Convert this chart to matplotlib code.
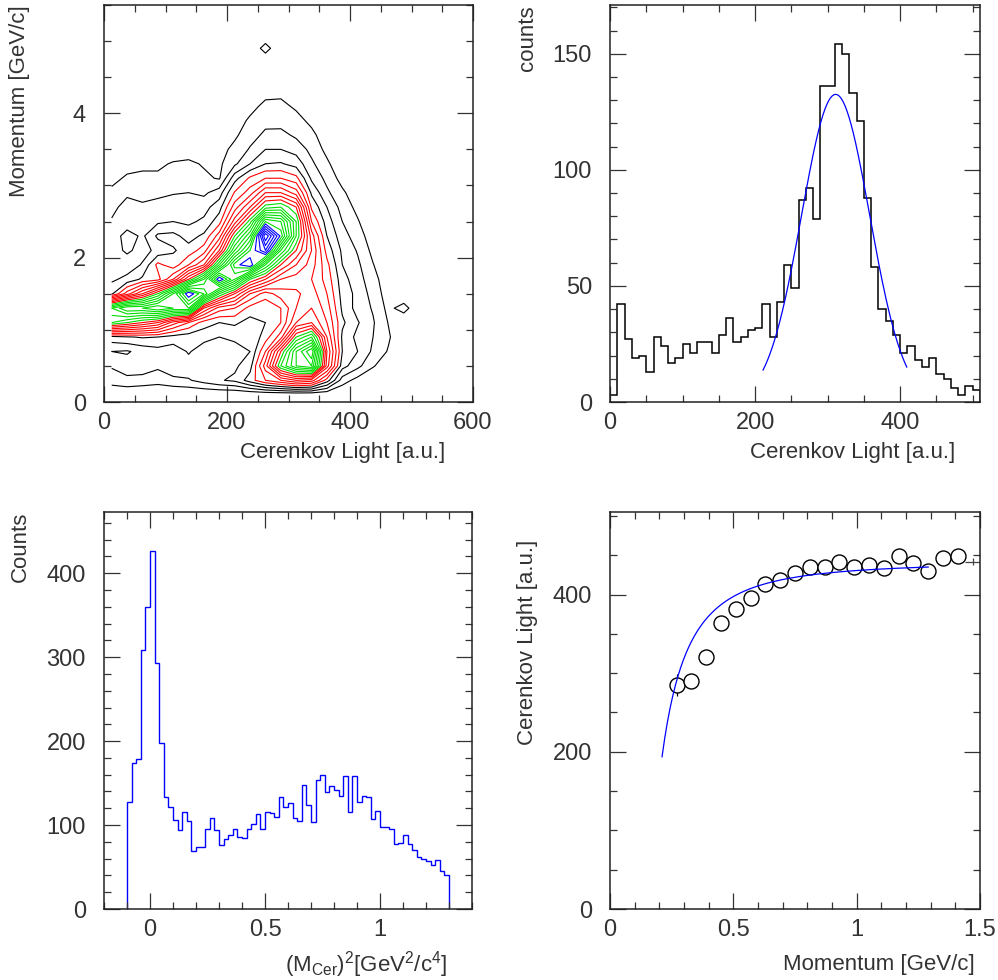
import numpy as np
import matplotlib
matplotlib.use('Agg')
import matplotlib.pyplot as plt
from matplotlib.ticker import MultipleLocator, FuncFormatter

plt.rcParams['font.family'] = ['Liberation Sans', 'DejaVu Sans']
plt.rcParams['mathtext.default'] = 'regular'

# --- 2D map: momentum vs Cerenkov light (counts per 25 a.u. x 0.2 GeV/c cell)
map_x = [12.5, 37.5, 62.5, 87.5, 112.5, 137.5, 162.5, 187.5, 212.5, 237.5, 262.5,
         287.5, 312.5, 337.5, 362.5, 387.5, 412.5, 437.5, 462.5, 487.5, 512.5, 537.5]
map_y = [0.1, 0.3, 0.5, 0.7, 0.9, 1.1, 1.3, 1.5, 1.7, 1.9, 2.1, 2.3, 2.5,
         2.7, 2.9, 3.1, 3.3, 3.5, 3.7, 3.9, 4.1, 4.3, 4.5, 4.7, 4.9, 5.1]
# one list per light bin, momentum running upwards
map_cols = [
    [0, 1.5, 2.1, 2.0, 3.6, 13, 15, 3.8, 2.8, 2.2, 2.5, 2.3, 2.1, 1.7, 1.3, 0.6, 0.2, 0, 0, 0, 0, 0, 0, 0, 0, 0],
    [0, 1.8, 2.4, 1.9, 3.9, 12, 17, 6.5, 3.3, 2.4, 3.2, 3.5, 2.3, 2.4, 1.8, 1.2, 0.5, 0, 0, 0, 0, 0, 0, 0, 0, 0],
    [0, 1.6, 2.6, 2.3, 4.1, 11, 17, 9, 4.2, 3.1, 2.6, 2.8, 2.6, 2.2, 1.6, 1.3, 0.7, 0.2, 0, 0, 0, 0, 0, 0, 0, 0],
    [0, 1.4, 2.2, 2.6, 4.0, 10, 18, 12, 4.6, 5.3, 3.3, 4.2, 2.8, 2.3, 1.8, 1.2, 0.8, 0.3, 0, 0, 0, 0, 0, 0, 0, 0],
    [0, 1.7, 2.8, 2.4, 3.6, 7.5, 17, 16, 7.0, 4.4, 3.9, 4.3, 3.0, 2.7, 1.9, 1.5, 1.1, 0.4, 0, 0, 0, 0, 0, 0, 0, 0],
    [0, 1.9, 2.6, 3.1, 3.4, 6, 17, 21, 11, 6.0, 4.4, 3.6, 2.8, 2.4, 2.0, 1.5, 1.2, 0.5, 0, 0, 0, 0, 0, 0, 0, 0],
    [0, 2.4, 2.7, 2.5, 3.3, 4.5, 9, 18, 15, 8, 5.5, 4.2, 3.2, 2.6, 1.8, 1.2, 0.9, 0.4, 0, 0, 0, 0, 0, 0, 0, 0],
    [0, 2.9, 2.5, 2.9, 3.0, 4.0, 6.5, 13, 21, 14, 9, 6.5, 4.6, 3.6, 2.5, 0.9, 0.8, 0.6, 0.2, 0, 0, 0, 0, 0, 0, 0],
    [0, 3.2, 2.8, 2.6, 3.2, 4.2, 6, 10, 17, 19.5, 15, 12, 8.5, 6.5, 5.1, 3.6, 1.8, 1.3, 0.8, 0.4, 0, 0, 0, 0, 0, 0],
    [0, 4.5, 3.6, 3.0, 3.1, 3.6, 4.6, 7, 12, 21, 19, 16, 12.5, 9, 6.5, 5.2, 3.0, 2.1, 1.6, 1.2, 0.6, 0, 0, 0, 0, 0],
    [0, 6, 7.5, 6.0, 4.5, 4.0, 4.2, 5.5, 10, 15, 22, 25, 19, 12.5, 9, 6, 4.0, 3.0, 2.2, 1.7, 1.3, 0.6, 0, 0, 1.5, 0],
    [0, 7, 13, 11, 6.5, 5.0, 5.0, 6.5, 8, 11, 15, 19.7, 18, 13, 9, 6, 4.1, 3.0, 2.3, 1.6, 1.3, 0.7, 0, 0, 0, 0],
    [0, 8, 16, 16, 12, 8, 7, 6.8, 7.5, 9, 11, 13, 13, 11, 7.5, 5.3, 3.6, 2.6, 1.8, 1.4, 0.8, 0.1, 0, 0, 0, 0],
    [0, 7.5, 17, 19, 14, 9, 8, 7.5, 7, 7.5, 8, 7.5, 6, 4.8, 3.8, 2.8, 2.2, 1.7, 1.3, 0.7, 0.2, 0, 0, 0, 0, 0],
    [0, 4.5, 8.5, 9, 8, 7, 6.5, 6, 5.6, 5.3, 4.6, 4.0, 3.5, 3.0, 2.2, 1.7, 1.2, 0.7, 0.3, 0, 0, 0, 0, 0, 0, 0],
    [0, 1.5, 3.4, 4.0, 3.8, 4.2, 3.8, 3.6, 3.4, 3.0, 2.8, 2.4, 2.0, 1.6, 1.2, 0.6, 0.2, 0, 0, 0, 0, 0, 0, 0, 0, 0],
    [0, 0.6, 2.3, 3.0, 2.7, 3.1, 2.6, 2.7, 2.4, 2.2, 1.9, 1.5, 1.1, 0.7, 0.3, 0, 0, 0, 0, 0, 0, 0, 0, 0, 0, 0],
    [0, 0.1, 1.1, 1.8, 2.0, 2.1, 1.9, 1.6, 1.4, 1.05, 0.7, 0.4, 0.1, 0, 0, 0, 0, 0, 0, 0, 0, 0, 0, 0, 0, 0],
    [0, 0, 0.3, 0.9, 1.15, 0.95, 0.7, 0.5, 0.3, 0.1, 0, 0, 0, 0, 0, 0, 0, 0, 0, 0, 0, 0, 0, 0, 0, 0],
    [0, 0, 0, 0, 0, 0, 1.5, 0, 0, 0, 0, 0, 0, 0, 0, 0, 0, 0, 0, 0, 0, 0, 0, 0, 0, 0],
    [0] * 26,
    [0] * 26,
]

# --- Cerenkov light spectrum, 10 a.u. bins
light_edges = np.arange(0, 520, 10)
light_counts = [3, 42, 27, 19, 20, 13, 28, 24, 17, 19, 25, 21, 26, 26, 21, 29, 36, 26,
                28, 31, 32, 42, 28, 43, 59, 49, 87, 92, 79, 136, 136, 154, 150, 133,
                121, 88, 58, 40, 35, 29, 21, 24, 18, 15, 19, 12, 10, 6, 3, 7, 5]
gaus_amp, gaus_mean, gaus_sigma = 132.5, 311.0, 47.0
gaus_from, gaus_to = 211.0, 409.0

# --- Cerenkov mass squared, 0.02 bins from -0.1 to 1.3
m2_edges = np.linspace(-0.1, 1.3, 71)
m2_counts = [127, 174, 179, 308, 360, 427, 293, 198, 134, 122,
             106, 94, 115, 105, 69, 74, 74, 95, 109, 94,
             76, 83, 88, 95, 86, 85, 95, 101, 113, 95,
             115, 114, 110, 134, 121, 126, 109, 105, 148, 124,
             104, 154, 160, 139, 146, 142, 135, 158, 115, 158,
             128, 135, 133, 107, 117, 98, 98, 95, 78, 79,
             88, 77, 70, 62, 59, 57, 53, 58, 45, 41]

# --- mean light yield vs momentum
p_mom = [0.27, 0.33, 0.39, 0.45, 0.51, 0.57, 0.63, 0.69, 0.75, 0.81,
         0.87, 0.93, 0.99, 1.05, 1.11, 1.17, 1.23, 1.29, 1.35, 1.41]
p_light = [285, 290, 320, 364, 381, 396, 413, 419, 428, 435,
           435, 441, 435, 437, 434, 449, 440, 430, 446, 449]
p_err = [14, 8, 7, 6, 5, 5, 5, 5, 5, 5, 5, 5, 5, 5, 5, 5, 5, 5, 5, 5]
last_mom, last_light, last_err = 1.47, 442, 4
yield_a, yield_b = 441.6, 0.025       # L = a * (1 - b / p^2)
yield_from, yield_to = 0.211, 1.29

W, H = 998, 980
fig = plt.figure(figsize=(W / 100, H / 100), dpi=100)


def box(l, r, t, b):
    return fig.add_axes([l / W, 1 - b / H, (r - l) / W, (b - t) / H])


fmt = FuncFormatter(lambda v, pos: '%g' % v)


def style(ax, xmaj, xmin, ymaj, ymin):
    ax.xaxis.set_major_locator(MultipleLocator(xmaj))
    ax.xaxis.set_minor_locator(MultipleLocator(xmin))
    ax.yaxis.set_major_locator(MultipleLocator(ymaj))
    ax.yaxis.set_minor_locator(MultipleLocator(ymin))
    ax.xaxis.set_major_formatter(fmt)
    ax.yaxis.set_major_formatter(fmt)
    ax.tick_params(which='both', direction='in', top=True, right=True,
                   width=0.9, colors='#333333', labelsize=17)
    ax.tick_params(which='major', length=11.5)
    ax.tick_params(which='minor', length=5)
    ax.tick_params(axis='x', pad=7)
    ax.tick_params(axis='y', pad=13)
    for s in ax.spines.values():
        s.set_linewidth(1.1)
        s.set_color('#222222')


def labels(ax, xl, yl, xpos, ypos):
    ax.set_xlabel(xl, fontsize=16, ha='right', va='center', color='#333333')
    ax.xaxis.set_label_coords(*xpos)
    ax.set_ylabel(yl, fontsize=16, ha='right', va='center', color='#333333')
    ax.yaxis.set_label_coords(*ypos)


# top left: contour map
ax1 = box(104, 473, 5, 402)
Z = np.array(map_cols).T
lev = np.arange(1, 25)
cols = ['black'] * 4 + ['#ff0000'] * 7 + ['#00dd00'] * 8 + ['#0000ff'] * 5
ax1.contour(map_x, map_y, Z, levels=lev, colors=cols, linewidths=0.8)
ax1.set_xlim(0, 600)
ax1.set_ylim(0, 5.5)
style(ax1, 200, 50, 2, 0.5)
labels(ax1, 'Cerenkov Light [a.u.]', 'Momentum [GeV/c]', (0.924, -0.128), (-0.23, 1.0))

# top right: light spectrum with gaussian fit
ax2 = box(610, 980, 5, 402)
ax2.stairs(light_counts, light_edges, color='black', linewidth=1.1)
gx = np.linspace(gaus_from, gaus_to, 200)
ax2.plot(gx, gaus_amp * np.exp(-0.5 * ((gx - gaus_mean) / gaus_sigma) ** 2),
         color='#0000ff', linewidth=0.9)
ax2.set_xlim(0, 510)
ax2.set_ylim(0, 171)
style(ax2, 200, 50, 50, 10)
labels(ax2, 'Cerenkov Light [a.u.]', 'counts', (0.932, -0.128), (-0.224, 1.0))

# bottom left: mass squared
ax3 = box(104, 472, 512, 909)
ax3.stairs(m2_counts, m2_edges, color='#0000ff', linewidth=1.0)
ax3.set_xlim(-0.2, 1.4)
ax3.set_ylim(0, 473)
style(ax3, 0.5, 0.1, 100, 20)
labels(ax3, r'(M$_{Cer}$)$^{2}$[GeV$^{2}$/c$^{4}$]', 'Counts', (0.932, -0.141), (-0.228, 1.0))

# bottom right: light yield vs momentum
ax4 = box(610, 980, 512, 909)
ax4.errorbar(p_mom, p_light, yerr=p_err, fmt='o', ms=10.8, mfc='white',
             mec='black', mew=1.0, ecolor='black', elinewidth=0.9, capsize=0, zorder=2)
ax4.errorbar([last_mom], [last_light], xerr=[0.03], yerr=[last_err], fmt='none',
             ecolor='#444444', elinewidth=0.9, capsize=0)
px = np.linspace(yield_from, yield_to, 200)
ax4.plot(px, yield_a * (1 - yield_b / px ** 2), color='#0000ff', linewidth=0.9, zorder=3)
ax4.set_xlim(0, 1.5)
ax4.set_ylim(0, 505)
style(ax4, 0.5, 0.1, 200, 50)
labels(ax4, 'Momentum [GeV/c]', 'Cerenkov Light [a.u.]', (0.986, -0.141), (-0.224, 0.929))

fig.savefig('out.png', dpi=100)
